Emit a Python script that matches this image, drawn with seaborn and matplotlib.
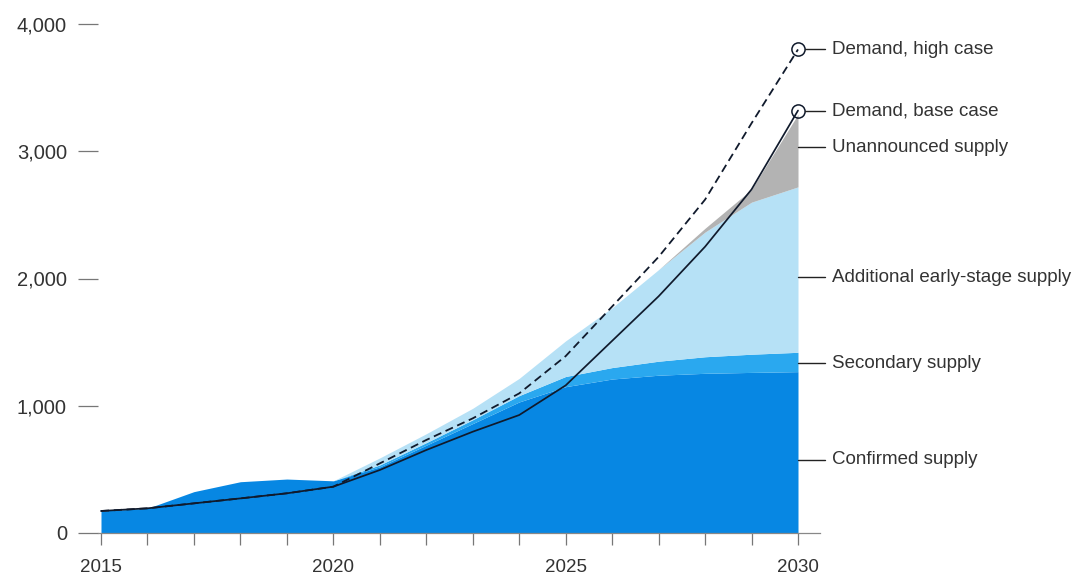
import numpy as np
import pandas as pd
import matplotlib
matplotlib.use("Agg")
import matplotlib.pyplot as plt
import seaborn as sns

# Supply and demand, 2015-2030
years = list(range(2015, 2031))
confirmed_supply = [173, 194, 325, 403, 424, 410, 520, 690, 860, 1030, 1150, 1210, 1240, 1255, 1262, 1268]
secondary_supply = [0, 0, 0, 0, 0, 0, 15, 20, 30, 50, 80, 90, 110, 130, 143, 152]
early_stage_supply = [0, 0, 0, 0, 0, 0, 55, 70, 90, 135, 280, 470, 720, 980, 1195, 1300]
unannounced_supply = [0, 0, 0, 0, 0, 0, 0, 0, 0, 0, 0, 0, 0, 30, 100, 570]
demand_base = [173, 194, 233, 272, 312, 364, 495, 652, 796, 927, 1160, 1510, 1860, 2250, 2700, 3320]
demand_high = [173, 194, 233, 272, 312, 364, 547, 731, 901, 1097, 1390, 1780, 2170, 2620, 3220, 3800]

y_ticks = [0, 1000, 2000, 3000, 4000]
x_labels = {2015: "2015", 2020: "2020", 2025: "2025", 2030: "2030"}

layer_names = ["Confirmed supply", "Secondary supply",
               "Additional early-stage supply", "Unannounced supply"]
layer_colors = ["#0787e3", "#2aa8ef", "#b6e1f6", "#b3b3b3"]
label_values = {"Demand, high case": 3800, "Demand, base case": 3320,
                "Unannounced supply": 3030, "Additional early-stage supply": 2010,
                "Secondary supply": 1335, "Confirmed supply": 575}

df = pd.DataFrame({
    "year": years,
    "Confirmed supply": confirmed_supply,
    "Secondary supply": secondary_supply,
    "Additional early-stage supply": early_stage_supply,
    "Unannounced supply": unannounced_supply,
    "Demand, base case": demand_base,
    "Demand, high case": demand_high,
})

sns.set_theme(style="white")
plt.rcParams["font.family"] = ["Liberation Sans", "DejaVu Sans"]
text_color = "#333333"

fig = plt.figure(figsize=(10.81, 5.76), dpi=100)
ax = fig.add_axes([98 / 1081, (576 - 533) / 576, (820 - 98) / 1081, (533 - 24) / 576])

# stacked supply areas
base = np.zeros(len(years))
for name, color in zip(layer_names, layer_colors):
    top = base + df[name].to_numpy()
    ax.fill_between(df["year"], base, top, color=color, linewidth=0, zorder=1)
    base = top

# demand lines
line_color = "#101a2c"
sns.lineplot(data=df, x="year", y="Demand, high case", ax=ax, color=line_color,
             linewidth=1.3, linestyle=(0, (4.5, 2.6)), zorder=3)
sns.lineplot(data=df, x="year", y="Demand, base case", ax=ax, color=line_color,
             linewidth=1.25, zorder=3)
for col in ["Demand, high case", "Demand, base case"]:
    ax.plot(years[-1], df[col].iloc[-1], marker="o", markersize=9.5,
            markerfacecolor="none", markeredgecolor=line_color,
            markeredgewidth=1.1, clip_on=False, zorder=4)

# right-hand labels with leader lines
x_end = years[-1]
for text, val in label_values.items():
    start = x_end + (0.14 if text.startswith("Demand") else 0.0)
    ax.plot([start, x_end + 0.58], [val, val], color="#222222", linewidth=1.0,
            clip_on=False, zorder=4)
    ax.text(x_end + 0.73, val, text, va="center", ha="left", fontsize=13.5,
            color=text_color, clip_on=False)

ax.set_xlim(2015 - 3 / 46.47, 2030 + 22 / 46.47)
ax.set_ylim(0, 4000)

ax.set_yticks(y_ticks)
ax.set_yticklabels([f"{v:,}" for v in y_ticks])
ax.set_xticks(years)
ax.set_xticklabels([x_labels.get(y, "") for y in years])

ax.tick_params(axis="y", length=14.4, width=0.9, color="#777777", pad=8,
               labelsize=14.5, labelcolor=text_color, direction="out", left=True)
ax.tick_params(axis="x", length=8.6, width=0.9, color="#777777", pad=10,
               labelsize=13.5, labelcolor=text_color, direction="out", bottom=True)

for side in ["top", "right", "left"]:
    ax.spines[side].set_visible(False)
ax.spines["bottom"].set_color("#888888")
ax.spines["bottom"].set_linewidth(0.9)

ax.set_xlabel("")
ax.set_ylabel("")
ax.grid(False)

fig.savefig("out.png", dpi=100)
